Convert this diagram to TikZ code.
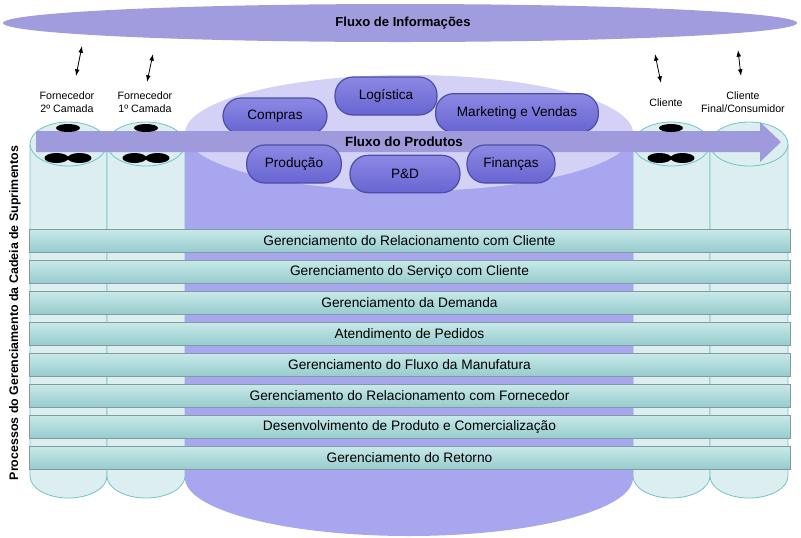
\documentclass[tikz,border=0pt]{standalone}
\usepackage{fontspec}
\setmainfont{Liberation Sans}
\usetikzlibrary{arrows.meta,shapes.geometric}
\definecolor{cyfill}{RGB}{220,238,240}
\definecolor{cyline}{RGB}{112,196,200}
\definecolor{lavlight}{RGB}{211,209,246}
\definecolor{lavbody}{RGB}{168,166,238}
\definecolor{infofill}{RGB}{160,156,222}
\definecolor{arrowfill}{RGB}{158,154,220}
\definecolor{pilltop}{RGB}{140,137,228}
\definecolor{pillbot}{RGB}{104,100,210}
\definecolor{pillline}{RGB}{78,76,165}
\definecolor{bandtop}{RGB}{200,233,233}
\definecolor{bandbot}{RGB}{152,204,206}
\definecolor{bandline}{RGB}{130,155,158}
\tikzset{
  pill/.style={rounded corners=13.5pt, draw=pillline, line width=0.9pt, top color=pilltop, bottom color=pillbot, font=\fontsize{10.2}{12}\selectfont, text=black, inner sep=0pt},
  band/.style={draw=bandline, line width=0.5pt, top color=bandtop, bottom color=bandbot, minimum width=570.75pt, minimum height=17pt, inner sep=0pt, font=\fontsize{10.3}{12}\selectfont},
  toplabel/.style={align=center, font=\fontsize{8}{9.5}\selectfont, inner sep=0pt},
  dbl/.style={{Latex[length=5pt,width=3.5pt]}-{Latex[length=5pt,width=3.5pt]}, line width=0.6pt},
  cyl/.style={fill=cyfill, draw=cyline, line width=0.6pt},
  blob/.style={fill=black}
}
\begin{document}
\begin{tikzpicture}[x=0.75pt,y=-0.75pt]
\useasboundingbox (0,0) rectangle (801,537);
% information flow
\fill[infofill] (400,23) ellipse [x radius=397, y radius=19];
\node[font=\bfseries\fontsize{9.8}{12}\selectfont] (info) at (403,23) {Fluxo de Informações};
% double arrows
\coordinate (a1t) at (82,46); \coordinate (a1b) at (76,76);
\coordinate (a2t) at (153,54); \coordinate (a2b) at (147,82);
\coordinate (a3t) at (655,54); \coordinate (a3b) at (661,83);
\coordinate (a4t) at (738,50); \coordinate (a4b) at (741,76);
\draw[dbl] (a1t) -- (a1b);
\draw[dbl] (a2t) -- (a2b);
\draw[dbl] (a3t) -- (a3b);
\draw[dbl] (a4t) -- (a4b);
% labels
\node[toplabel] (l1) at (67,102) {Fornecedor\\2º Camada};
\node[toplabel] (l2) at (145,102) {Fornecedor\\1º Camada};
\node[toplabel] (l3) at (666,103) {Cliente};
\node[toplabel] (l4) at (743,102) {Cliente\\Final/Consumidor};
% small cylinders
\foreach \xa/\xb in {30/107,107/185,633/710,710/788}{
  \pgfmathsetmacro{\xc}{(\xa+\xb)/2}
  \pgfmathsetmacro{\rx}{(\xb-\xa)/2}
  \draw[cyl] (\xa,144) -- (\xa,476) arc[start angle=180, end angle=0, x radius=\rx, y radius=22] -- (\xb,144);
  \draw[cyl] (\xc,144) ellipse [x radius=\rx, y radius=22];
}
% central cylinder
\fill[lavbody] (185,133) -- (185,478) arc[start angle=180, end angle=0, x radius=224, y radius=58] -- (633,133) -- cycle;
\fill[lavlight] (409,133) ellipse [x radius=224, y radius=58];
% top pills
\node[pill, minimum width=78pt, minimum height=27pt] (compras) at (275,116) {Compras};
\node[pill, minimum width=76.5pt, minimum height=28.5pt] (log) at (386,96) {Logística};
\node[pill, minimum width=122pt, minimum height=29pt] (mkt) at (517,113) {Marketing e Vendas};
% product flow arrow
\fill[arrowfill] (36,131) -- (760,131) -- (760,122) -- (781,142) -- (760,162) -- (760,152) -- (36,152) -- cycle;
\node[font=\bfseries\fontsize{10}{12}\selectfont] (prod) at (404,142) {Fluxo do Produtos};
% bottom pills
\node[pill, minimum width=71pt, minimum height=28.5pt] (producao) at (294,164) {Produção};
\node[pill, minimum width=82.5pt, minimum height=28pt] (ped) at (405,174) {P\&D};
\node[pill, minimum width=66pt, minimum height=28.5pt] (fin) at (511,164) {Finanças};
% blobs
\foreach \c in {68,146,671}{
  \fill[blob] (\c,128) ellipse [x radius=12, y radius=4];
  \fill[blob] (\c-11.5,158) ellipse [x radius=12, y radius=5];
  \fill[blob] (\c+11.5,158) ellipse [x radius=12, y radius=5];
}
% bands
\node[band] (b1) at (409.5,240.5) {Gerenciamento do Relacionamento com Cliente};
\node[band] (b2) at (409.5,271.5) {Gerenciamento do Serviço com Cliente};
\node[band] (b3) at (409.5,302.5) {Gerenciamento da Demanda};
\node[band] (b4) at (409.5,333.5) {Atendimento de Pedidos};
\node[band] (b5) at (409.5,364.5) {Gerenciamento do Fluxo da Manufatura};
\node[band] (b6) at (409.5,395.5) {Gerenciamento do Relacionamento com Fornecedor};
\node[band] (b7) at (409.5,426.5) {Desenvolvimento de Produto e Comercialização};
\node[band] (b8) at (409.5,457.5) {Gerenciamento do Retorno};
% vertical label
\node[rotate=90, font=\bfseries\fontsize{9.3}{11}\selectfont] (side) at (15,313) {Processos do Gerenciamento da Cadeia de Suprimentos};
\end{tikzpicture}
\end{document}
